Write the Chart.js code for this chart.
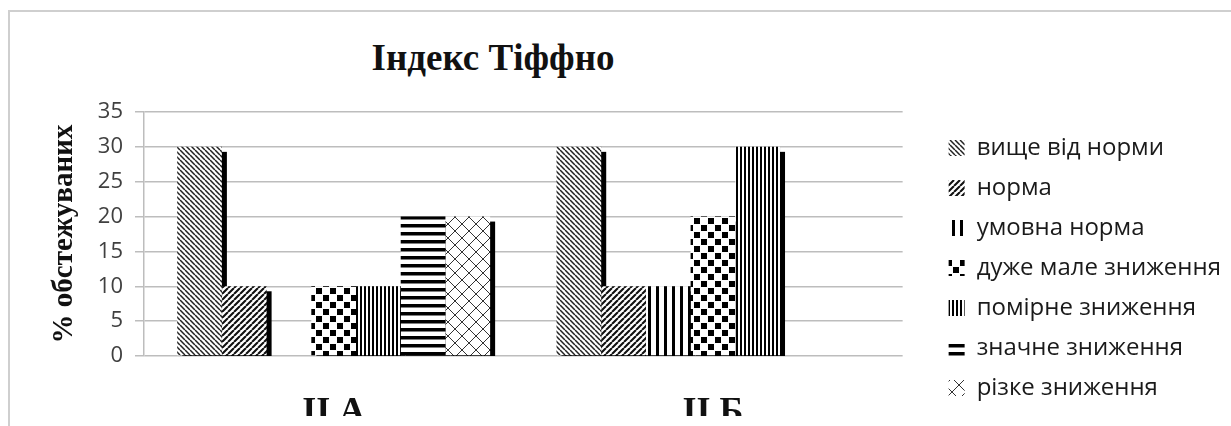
<!DOCTYPE html>
<html>
<head>
<meta charset="utf-8">
<script src="https://cdn.jsdelivr.net/npm/chart.js@4/dist/chart.umd.min.js"></script>
<style>
  html, body { margin: 0; padding: 0; background: #fff; overflow: hidden; }
  .frame { position: absolute; left: 8px; top: 10px; width: 1300px; height: 500px; border: 2px solid #cfcfcf; }
  .title { position: absolute; left: 0; top: 39px; width: 986px; text-align: center;
           font: bold 37px/37px "Liberation Serif", serif; color: #111; }
  .wrap { position: absolute; left: 0; top: 0; width: 1231px; height: 426px; }
</style>
</head>
<body>
<div class="frame"></div>
<div class="title">Індекс Тіффно</div>
<div class="wrap"><canvas id="tiffno"></canvas></div>
<script>
// Дані з діаграми
const categories = ['ІІ А', 'ІІ Б'];
const seriesNames = ['вище від норми', 'норма', 'умовна норма', 'дуже мале зниження',
                     'помірне зниження', 'значне зниження', 'різке зниження'];
const aboveNorm = [30, 30];
const norm = [10, 10];
const conditionalNorm = [0, 10];
const slightDecrease = [10, 20];
const moderateDecrease = [10, 30];
const significantDecrease = [20, 0];
const sharpDecrease = [20, 0];
const yTicks = [0, 5, 10, 15, 20, 25, 30, 35];

// Візерунки заливки (як у чорно-білому Excel)
function makePattern(w, h, draw) {
    const c = document.createElement('canvas');
    c.width = w;
    c.height = h;
    const g = c.getContext('2d');
    g.fillStyle = '#fff';
    g.fillRect(0, 0, w, h);
    g.fillStyle = '#000';
    g.strokeStyle = '#000';
    draw(g, w, h);
    return c.getContext('2d').createPattern(c, 'repeat');
}

function diagonal(s, lw, color, dir) {
    return makePattern(s, s, (g) => {
        g.strokeStyle = color;
        g.lineWidth = lw;
        g.beginPath();
        [-s, 0, s].forEach(k => {
            if (dir === 'down') {
                g.moveTo(k, 0); g.lineTo(k + s, s);
            } else {
                g.moveTo(k, s); g.lineTo(k + s, 0);
            }
        });
        g.stroke();
    });
}

const patterns = [
    diagonal(5, 1.5, '#222', 'down'),
    diagonal(6, 2.1, '#111', 'up'),
    makePattern(8, 8, (g) => g.fillRect(0, 0, 3, 8)),
    makePattern(14, 14, (g) => { g.fillRect(1, 1, 6, 6); g.fillRect(8, 8, 6, 6); }),
    makePattern(4, 4, (g) => g.fillRect(0, 0, 2, 4)),
    makePattern(8, 8, (g) => g.fillRect(0, 0, 8, 3.5)),
    makePattern(14, 14, (g) => {
        g.strokeStyle = '#333';
        g.lineWidth = 1;
        g.beginPath();
        g.moveTo(0, 0); g.lineTo(14, 14);
        g.moveTo(0, 14); g.lineTo(14, 0);
        g.stroke();
    })
];

const seriesValues = [aboveNorm, norm, conditionalNorm, slightDecrease,
                      moderateDecrease, significantDecrease, sharpDecrease];

// Тінь праворуч від стовпчиків
const barShadow = {
    id: 'barShadow',
    beforeDatasetsDraw(chart) {
        const {ctx, chartArea} = chart;
        ctx.save();
        ctx.beginPath();
        ctx.rect(chartArea.left, chartArea.top, chartArea.width, chartArea.height);
        ctx.clip();
        ctx.fillStyle = '#000';
        chart.data.datasets.forEach((ds, i) => {
            chart.getDatasetMeta(i).data.forEach(bar => {
                const p = bar.getProps(['x', 'y', 'base', 'width'], true);
                if (p.base - p.y < 1) return;
                ctx.fillRect(p.x - p.width / 2 + 5, p.y + 5, p.width, p.base - p.y);
            });
        });
        ctx.restore();
    }
};

// Ширина легенди, щоб область графіка закінчувалась там же, де в оригіналі
const legendFont = { family: '"Open Sans"', size: 24 };
const legendBox = 16;
const legendPad = 16;
const legendGap = 30;
const measure = document.createElement('canvas').getContext('2d');
measure.font = legendFont.size + 'px ' + legendFont.family;
const widestLabel = Math.max(...seriesNames.map(n => measure.measureText(n).width));
const legendWidth = legendPad + legendBox + legendFont.size / 2 + widestLabel + 10;
const rightPad = Math.max(0, 1231 - 905 - legendGap - legendWidth);

const gridColor = '#bdbdbd';

new Chart(document.getElementById('tiffno'), {
    type: 'bar',
    data: {
        labels: categories,
        datasets: seriesNames.map((name, i) => ({
            label: name,
            data: seriesValues[i],
            backgroundColor: patterns[i],
            borderWidth: 0,
            categoryPercentage: 0.825,
            barPercentage: 1
        }))
    },
    plugins: [barShadow],
    options: {
        responsive: true,
        maintainAspectRatio: false,
        animation: false,
        layout: { padding: { left: 10, top: 112, right: rightPad, bottom: 10 } },
        plugins: {
            title: { display: false },
            tooltip: { enabled: false },
            legend: {
                position: 'right',
                align: 'end',
                labels: {
                    boxWidth: legendBox,
                    boxHeight: legendBox,
                    padding: legendPad,
                    color: '#1a1a1a',
                    font: legendFont
                }
            }
        },
        scales: {
            x: {
                grid: { display: false, drawTicks: false },
                border: { display: false },
                ticks: {
                    padding: 35,
                    color: '#111',
                    font: { family: '"Liberation Serif"', size: 36, weight: 'bold' }
                },
                afterFit(scale) { scale.height = 60; }
            },
            y: {
                min: yTicks[0],
                max: yTicks[yTicks.length - 1],
                grid: { color: gridColor, lineWidth: 1.5, tickLength: 9 },
                border: { display: true, color: gridColor, width: 1.5 },
                ticks: {
                    stepSize: yTicks[1] - yTicks[0],
                    padding: 12,
                    color: '#404040',
                    font: { family: '"Open Sans"', size: 22 }
                },
                title: {
                    display: true,
                    text: '% обстежуваних',
                    color: '#111',
                    padding: { top: 37, bottom: 0 },
                    font: { family: '"Liberation Serif"', size: 29, weight: 'bold' }
                },
                afterFit(scale) { scale.width = 134; }
            },
            // порожній простір між графіком і легендою
            gap: {
                axis: 'y',
                position: 'right',
                display: false,
                afterFit(scale) { scale.width = legendGap; }
            }
        }
    }
});
</script>
</body>
</html>
